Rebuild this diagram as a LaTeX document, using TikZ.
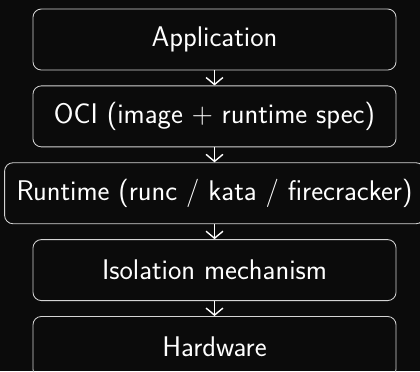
\documentclass[tikz,border=0pt]{standalone}
\usetikzlibrary{positioning, arrows.meta}
\definecolor{Bg}{HTML}{0B0B0B}
\definecolor{Edge}{HTML}{D4D4D4}
\definecolor{Ink}{HTML}{FFFFFF}
\tikzset{
    layernode/.style={rectangle, rounded corners=6pt, draw=Edge, line width=0.6pt, text=Ink, font=\sffamily\fontsize{20.2}{24}\selectfont, minimum width=9.075cm, minimum height=1.525cm, inner xsep=0.3cm},
    arrow/.style={-{Straight Barb[length=5pt, width=12pt, line width=1pt]}, line width=0.8pt, color=Ink},
}
\begin{document}
\begin{tikzpicture}[x=0.025cm, y=0.025cm, node distance=0.375cm]

    % Sfondo
    \fill[Bg] (0,0) rectangle (420,-371);
    \useasboundingbox (0,0) rectangle (420,-371);

    % Livelli
    \node[layernode] (app) at (214.5,-39.5) {Application};
    \node[layernode, below=of app] (oci) {OCI (image $+$ runtime spec)};
    \node[layernode, below=of oci] (runtime) {Runtime (runc / kata / firecracker)};
    \node[layernode, below=of runtime] (isol) {Isolation mechanism};
    \node[layernode, below=of isol] (hw) {Hardware};

    % Frecce
    \draw[arrow] (app) -- (oci);
    \draw[arrow] (oci) -- (runtime);
    \draw[arrow] (runtime) -- (isol);
    \draw[arrow] (isol) -- (hw);

\end{tikzpicture}
\end{document}
